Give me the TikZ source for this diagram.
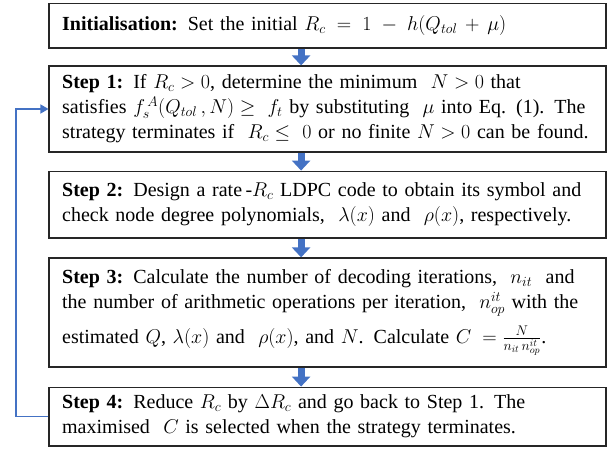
\RequirePackage{fix-cm}
\documentclass[tikz,border=0pt]{standalone}
\usepackage{fontspec}
\setmainfont{Liberation Serif}
\usetikzlibrary{arrows.meta}
\definecolor{stepblue}{HTML}{4472C4}

\begin{document}
\begin{tikzpicture}[
        every node/.style={font=\fontsize{20}{25}\selectfont},
        stepbox/.style={rectangle, draw=black!85, line width=1.2pt,
            minimum width=19.57cm, text width=18.65cm,
            inner xsep=13pt, inner ysep=2pt, align=left},
        blockarrow/.style={-{Triangle[width=18pt, length=10pt]},
            line width=7pt, draw=stepblue},
        loop/.style={-{Triangle[width=9pt, length=8pt]},
            line width=1.3pt, draw=stepblue}
      ]
      \useasboundingbox (0, 0) rectangle (21.54, -15.85);
      \node[stepbox, minimum height=1.58cm] (init) at (11.51, -0.90)
      {\textbf{Initialisation:} Set the initial $R_c\;=\;1\;-\;h(Q_{tol}\,+\,\mu)$};
      \node[stepbox, minimum height=3.02cm] (s1) at (11.51, -3.83)
      {\textbf{Step 1:} If $R_c>0$, determine the minimum \ $N>0$ that\\
       satisfies $f_s^{\,A}(Q_{tol}\,,N)\geq\ f_t$ by substituting \ $\mu$ into Eq. (1). The\\
       strategy terminates if \ $R_c\leq\ 0$ or no finite $N>0$ can be found.};
      \node[stepbox, minimum height=2.35cm] (s2) at (11.51, -7.19)
      {\textbf{Step 2:} Design a rate\,-$R_c$ LDPC code to obtain its symbol and\\
       check node degree polynomials, \ $\lambda(x)$ and \ $\rho(x)$, respectively.};
      \node[stepbox, minimum height=3.83cm] (s3) at (11.51, -10.98)
      {\textbf{Step 3:} Calculate the number of decoding iterations, \ $n_{it}$ \ and\\
       the number of arithmetic operations per iteration, \ $n_{op}^{it}$ with the\\[9pt]
       estimated $Q$, $\lambda(x)$ and \ $\rho(x)$, and $N$. Calculate $C\;=\frac{N}{n_{it}\,n_{op}^{it}}$.};
      \node[stepbox, minimum height=2.07cm] (s4) at (11.51, -14.64)
      {\textbf{Step 4:} Reduce $R_c$ by $\Delta R_c$ and go back to Step 1. The\\
       maximised \ $C$ is selected when the strategy terminates.};
      \coordinate (ax) at (10.58, 0);
      \coordinate (back) at (0.56, 0);
      \draw[blockarrow] (init.south -| ax) -- (s1.north -| ax);
      \draw[blockarrow] (s1.south -| ax)   -- (s2.north -| ax);
      \draw[blockarrow] (s2.south -| ax)   -- (s3.north -| ax);
      \draw[blockarrow] (s3.south -| ax)   -- (s4.north -| ax);
      \draw[loop] (s4.west) -- (s4.west -| back) -- (s1.west -| back) -- (s1.west);
    \end{tikzpicture}
\end{document}
